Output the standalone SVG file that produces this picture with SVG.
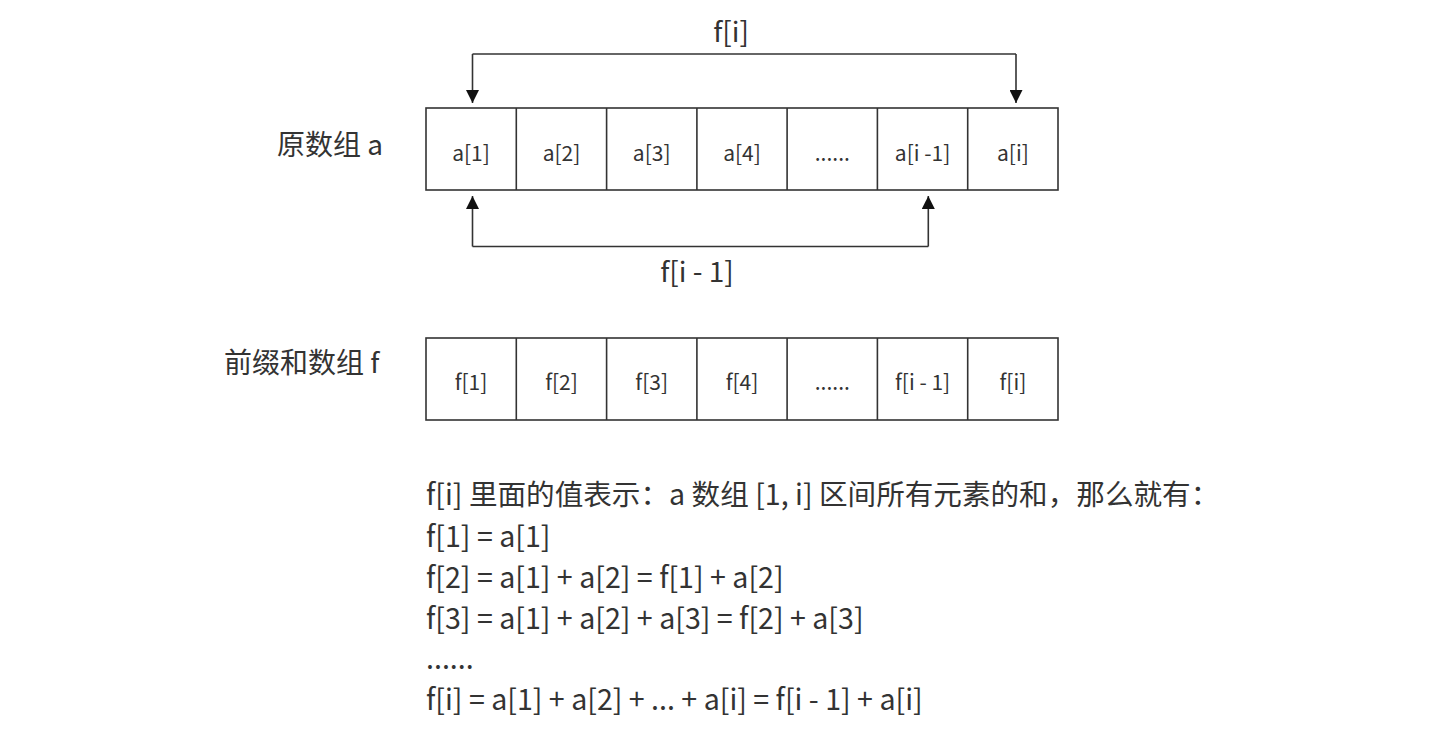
<svg xmlns="http://www.w3.org/2000/svg" width="1441" height="742" viewBox="0 0 1441 742">
<defs>
<style>
.t{font-family:"Noto Sans CJK SC","Noto Sans",sans-serif;fill:#333;}
.lbl{font-size:28px;}
.exp{font-size:28.6px;}
.cell{font-size:21px;text-anchor:middle;}
.box{fill:#fff;stroke:#333;stroke-width:1.6;}
.ln{fill:none;stroke:#333;stroke-width:1.6;}
</style>
<marker id="ah" viewBox="0 0 13 13" refX="13" refY="6.5" markerWidth="13" markerHeight="13" markerUnits="userSpaceOnUse" orient="auto">
<path d="M0,0 L13,6.5 L0,13 Z" fill="#111"/>
</marker>
</defs>
<rect width="1441" height="742" fill="#fff"/>
<g id="label-a"><text class="t lbl" x="277" y="155">原数组 a</text></g>
<g id="label-f"><text class="t lbl" x="224" y="373">前缀和数组 f</text></g>
<g id="array-a">
<rect class="box" x="426" y="108" width="632" height="82"/>
<path class="ln" d="M516.3,108V190M606.6,108V190M696.9,108V190M787.1,108V190M877.4,108V190M967.7,108V190"/>
<text class="t cell" x="471" y="161">a[1]</text>
<text class="t cell" x="561.5" y="161">a[2]</text>
<text class="t cell" x="651.7" y="161">a[3]</text>
<text class="t cell" x="742" y="161">a[4]</text>
<text class="t cell" x="832.3" y="161">......</text>
<text class="t cell" x="922.6" y="161">a[i -1]</text>
<text class="t cell" x="1012.9" y="161">a[i]</text>
</g>
<g id="array-f">
<rect class="box" x="426" y="338" width="632" height="82"/>
<path class="ln" d="M516.3,338V420M606.6,338V420M696.9,338V420M787.1,338V420M877.4,338V420M967.7,338V420"/>
<text class="t cell" x="471" y="390">f[1]</text>
<text class="t cell" x="561.5" y="390">f[2]</text>
<text class="t cell" x="651.7" y="390">f[3]</text>
<text class="t cell" x="742" y="390">f[4]</text>
<text class="t cell" x="832.3" y="390">......</text>
<text class="t cell" x="922.6" y="390">f[i - 1]</text>
<text class="t cell" x="1012.9" y="390">f[i]</text>
</g>
<g id="connectors">
<path class="ln" d="M472.5,54H1016"/>
<path class="ln" d="M472.5,54V103" marker-end="url(#ah)"/>
<path class="ln" d="M1016,54V103" marker-end="url(#ah)"/>
<path class="ln" d="M472.5,246.5V196" marker-end="url(#ah)"/>
<path class="ln" d="M928.3,246.5V196" marker-end="url(#ah)"/>
<path class="ln" d="M472.5,246.5H928.3"/>
</g>
<g id="label-fi"><text class="t lbl" x="731" y="42" text-anchor="middle">f[i]</text></g>
<g id="label-fi1"><text class="t lbl" x="697" y="282" text-anchor="middle">f[i - 1]</text></g>
<g id="explanation">
<text class="t exp" x="426" y="505">f[i] 里面的值表示：a 数组 [1, i] 区间所有元素的和，那么就有：</text>
<text class="t exp" x="426" y="547">f[1] = a[1]</text>
<text class="t exp" x="426" y="588">f[2] = a[1] + a[2] = f[1] + a[2]</text>
<text class="t exp" x="426" y="629">f[3] = a[1] + a[2] + a[3] = f[2] + a[3]</text>
<text class="t exp" x="426" y="669">......</text>
<text class="t exp" x="426" y="710">f[i] = a[1] + a[2] + ... + a[i] = f[i - 1] + a[i]</text>
</g>
</svg>
